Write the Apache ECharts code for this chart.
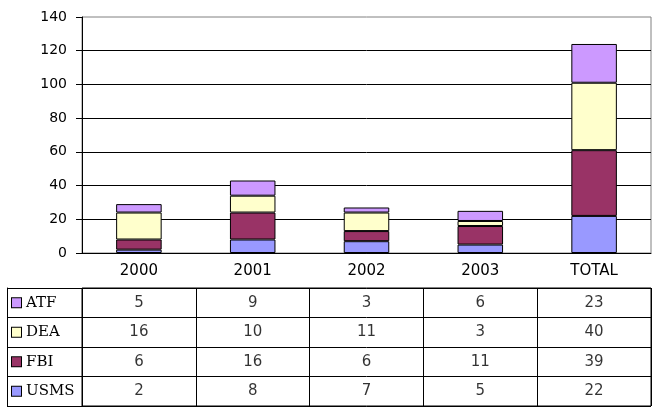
<!DOCTYPE html>
<html>
<head>
<meta charset="utf-8">
<script src="https://cdn.jsdelivr.net/npm/echarts@6/dist/echarts.min.js"></script>
<style>
  html, body { margin: 0; padding: 0; background: #fff; }
  #chart { width: 658px; height: 414px; }
</style>
</head>
<body>
<div id="chart"></div>
<script>
  const years = ['2000', '2001', '2002', '2003', 'TOTAL'];
  const agencies = ['USMS', 'FBI', 'DEA', 'ATF'];   // bottom to top
  const usms = [2, 8, 7, 5, 22];
  const fbi = [6, 16, 6, 11, 39];
  const dea = [16, 10, 11, 3, 40];
  const atf = [5, 9, 3, 6, 23];
  const colors = ['#9999FF', '#993366', '#FFFFCC', '#CC99FF'];

  const seriesData = [usms, fbi, dea, atf];

  // cells of the data table: [col, row, value]
  let cells = [];
  for (let r = 0; r < agencies.length; r++) {
    for (let c = 0; c < years.length; c++) {
      cells.push([c, r, seriesData[r][c]]);
    }
  }

  let rich = {
    t: { fontFamily: 'DejaVu Serif', fontSize: 15, color: '#000', padding: [0, 0, 0, 5] }
  };
  agencies.forEach((a, i) => {
    rich[a] = { backgroundColor: colors[i], width: 9, height: 9, borderColor: '#000', borderWidth: 1 };
  });

  let myChart = echarts.init(document.getElementById('chart'));
  myChart.setOption({
    animation: false,
    grid: [
      { left: 82, right: 7, top: 17, bottom: 161, show: true, borderColor: '#808080', borderWidth: 1 },
      { left: 82, right: 7, top: 288, bottom: 8, show: true, borderColor: '#000', borderWidth: 1 }
    ],
    xAxis: [
      {
        type: 'category',
        gridIndex: 0,
        data: years,
        axisLine: { lineStyle: { color: '#000' } },
        axisTick: { length: 35, lineStyle: { color: '#000' } },
        axisLabel: { color: '#000', fontFamily: 'DejaVu Sans', fontSize: 15, margin: 11 }
      },
      {
        type: 'category',
        gridIndex: 1,
        data: years,
        axisLine: { show: false },
        axisTick: { show: false },
        axisLabel: { show: false },
        splitLine: { show: true, lineStyle: { color: '#000' } }
      }
    ],
    yAxis: [
      {
        type: 'value',
        gridIndex: 0,
        min: 0,
        max: 140,
        interval: 20,
        axisLine: { show: true, lineStyle: { color: '#000' } },
        axisTick: { show: true, length: 6, lineStyle: { color: '#000' } },
        axisLabel: { color: '#000', fontFamily: 'DejaVu Sans', fontSize: 14, margin: 15 },
        splitLine: { show: true, showMaxLine: false, lineStyle: { color: '#000' } }
      },
      {
        type: 'category',
        gridIndex: 1,
        data: agencies,
        axisLine: { show: false },
        axisTick: { show: true, length: 75, lineStyle: { color: '#000' } },
        axisLabel: {
          align: 'left',
          margin: 70,
          formatter: v => '{' + v + '|}{t|' + v + '}',
          rich: rich
        },
        splitLine: { show: true, lineStyle: { color: '#000' } }
      },
      {
        type: 'category',
        gridIndex: 1,
        data: agencies,
        position: 'left',
        offset: 75,
        axisLine: { show: true, lineStyle: { color: '#000' } },
        axisTick: { show: false },
        axisLabel: { show: false },
        splitLine: { show: false }
      }
    ],
    series: agencies.map((a, i) => ({
      name: a,
      type: 'bar',
      stack: 'total',
      xAxisIndex: 0,
      yAxisIndex: 0,
      barWidth: '40%',
      itemStyle: { color: colors[i], borderColor: '#000', borderWidth: 1 },
      data: seriesData[i]
    })).concat([{
      type: 'scatter',
      xAxisIndex: 1,
      yAxisIndex: 1,
      symbolSize: 0,
      silent: true,
      label: {
        show: true,
        position: 'inside',
        color: '#000',
        fontFamily: 'DejaVu Sans',
        fontSize: 15,
        formatter: p => p.value[2]
      },
      data: cells
    }])
  });
</script>
</body>
</html>
